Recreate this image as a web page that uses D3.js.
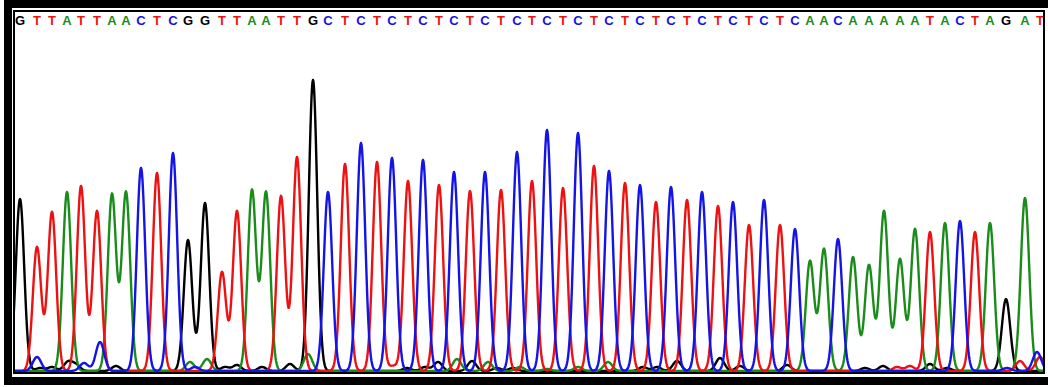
<!DOCTYPE html>
<html>
<head>
<meta charset="utf-8">
<script src="https://cdn.jsdelivr.net/npm/d3@7"></script>
<style>
  html, body { margin: 0; padding: 0; background: #fff; }
  svg { display: block; }
</style>
</head>
<body>
<svg id="chart" width="1048" height="387"></svg>
<script>
// ---- data ----
const bases = ("GTTATTAACTCGGTTAATTG" + "CTCTCTCTCTCTCTCTCTCTCTCTCTCTCTC" + "AACAAAAATACTAGAT").split("");
const peakPos = [20,37,52,67,81,97,112,126,141,157,173,188,205,222,237,252,266,281,297,313,
  328,345,361,377,392,408,423,439,454,470,485,501,517,532,547,563,578,594,609,625,640,656,671,687,
  702,718,733,749,764,780,795,810,824,838,853,869,884,900,915,930,945,960,975,990,1006,1025,1040];
const peakHeight = [172,124,159,179,185,160,177,179,203,198,218,131,168,99,160,181,179,175,214,291,
  179,207,228,209,213,190,211,186,199,180,199,181,219,190,241,183,238,205,200,188,186,169,184,171,
  179,165,169,146,171,146,142,110,122,132,114,106,160,112,142,139,148,150,139,148,72,173,14];
// small background bumps near the baseline
const minorBase = ["C","C","C","C","C","C",
  "G","G","G","G","G","G","G","G","G","G","G","G","G","G","G","G","G","G","G","G","G","G","G","G","G",
  "A","A","A","A","A","A","A","A","A",
  "T","T","T","T"];
const minorPos = [37,84,100,195,1007,1037,
  40,52,68,76,116,225,237,262,290,407,425,438,472,497,513,643,657,677,720,740,787,865,883,930,947,
  190,207,308,457,488,520,547,578,608,
  393,897,910,1020];
const minorHeight = [14,8,29,4,3,19,
  3,4,9,6,5,4,6,4,7,3,4,9,10,3,3,4,4,10,13,5,6,3,5,7,3,
  9,12,17,12,9,4,2,4,9,
  5,4,5,10];
const colors = {A: "#1a8c1a", C: "#1414e6", G: "#000000", T: "#ee1111"};

// ---- layout ----
const svg = d3.select("#chart");
const inner = {x0: 15, x1: 1044, y0: 12, y1: 372};
const x = d3.scaleLinear().domain([15, 1044]).range([inner.x0, inner.x1]);
const y = d3.scaleLinear().domain([0, 360]).range([inner.y1 - 1, inner.y1 - 361]);
const sigma = 4.2;

svg.append("rect").attr("x", 0).attr("y", 0).attr("width", 1048).attr("height", 387).attr("fill", "#fff");

const defs = svg.append("defs");
defs.append("clipPath").attr("id", "clipInner").append("rect")
  .attr("x", inner.x0).attr("y", inner.y0).attr("width", inner.x1 - inner.x0).attr("height", inner.y1 - inner.y0);

const g = svg.append("g").attr("clip-path", "url(#clipInner)");

function peaksFor(ch) {
  const list = [];
  bases.forEach((b, i) => { if (b === ch) list.push({p: peakPos[i], h: peakHeight[i]}); });
  minorBase.forEach((b, i) => { if (b === ch) list.push({p: minorPos[i], h: minorHeight[i]}); });
  return list;
}
const xs = d3.range(0, 1060, 0.5);
const line = d3.line().x(d => x(d[0])).y(d => y(d[1]));

["G", "A", "T", "C"].forEach(ch => {
  const pk = peaksFor(ch);
  const pts = xs.map(xv => {
    let s = 0;
    for (const q of pk) { const d = xv - q.p; s += q.h * Math.exp(-d * d / (2 * sigma * sigma)); }
    return [xv, s];
  });
  g.append("path").attr("d", line(pts)).attr("fill", "none")
    .attr("stroke", colors[ch]).attr("stroke-width", 2.4).attr("stroke-linejoin", "round");
});

// base calls along the top
g.selectAll("text.base").data(bases).join("text")
  .attr("class", "base")
  .attr("x", (d, i) => x(peakPos[i]))
  .attr("y", 25)
  .attr("text-anchor", "middle")
  .attr("font-family", "'Liberation Sans', Arial, sans-serif")
  .attr("font-weight", "bold")
  .attr("font-size", 13)
  .attr("fill", d => colors[d])
  .text(d => d);

// frame
svg.append("rect").attr("x", 4).attr("y", 0).attr("width", 1044).attr("height", 8).attr("fill", "#000");
svg.append("rect").attr("x", 4).attr("y", 0).attr("width", 8).attr("height", 385).attr("fill", "#000");
svg.append("rect").attr("x", 4).attr("y", 377).attr("width", 1044).attr("height", 8).attr("fill", "#000");
svg.append("rect").attr("x", 14).attr("y", 11).attr("width", 1030).attr("height", 362)
  .attr("fill", "none").attr("stroke", "#000").attr("stroke-width", 2);
</script>
</body>
</html>
